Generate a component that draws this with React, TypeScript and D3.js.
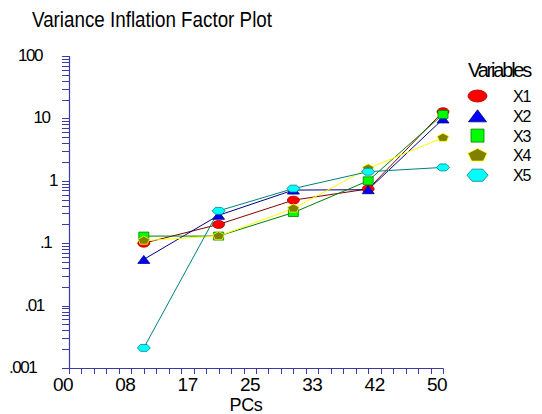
import * as d3 from "d3";

// values
const pcs = [1, 2, 3, 4, 5];
const x1 = [0.1, 0.2, 0.49, 0.74, 12.8];
const x2 = [0.055, 0.28, 0.71, 0.72, 9.8];
const x3 = [0.13, 0.13, 0.31, 1.0, 11.6];
const x4 = [0.11, 0.13, 0.36, 1.58, 4.9];
const x5 = [0.0021, 0.33, 0.75, 1.4, 1.64];
const seriesNames = ["X1", "X2", "X3", "X4", "X5"];

const xTickValues = [0, 5 / 6, 5 / 3, 2.5, 10 / 3, 25 / 6, 5];
const xTickLabels = ["00", "08", "17", "25", "33", "42", "50"];
const yTickValues = [100, 10, 1, 0.1, 0.01, 0.001];
const yTickLabels = ["100", "10", "1", ".1", ".01", ".001"];

const styles = [
  { shape: "circle", fill: "#ff0000", stroke: "#a00000", line: "#800000" },
  { shape: "triangle", fill: "#0000ff", stroke: "#000080", line: "#000080" },
  { shape: "square", fill: "#00ff00", stroke: "#008000", line: "#008000" },
  { shape: "pentagon", fill: "#808000", stroke: "#ffff00", line: "#ffff00" },
  { shape: "hexagon", fill: "#00ffff", stroke: "#008080", line: "#008080" },
];

const font = "'Liberation Sans', Arial, sans-serif";
const axisColor = "#3a3aa8";

function Marker({ shape, cx, cy, w, h, fill, stroke }) {
  if (shape === "circle") {
    return <ellipse cx={cx} cy={cy} rx={w / 2} ry={h / 2} fill={fill} stroke={stroke} strokeWidth={0.8} />;
  }
  let pts;
  if (shape === "triangle") {
    pts = [[0, -h / 2], [w / 2, h / 2], [-w / 2, h / 2]];
  } else if (shape === "square") {
    pts = [[-w / 2, -h / 2], [w / 2, -h / 2], [w / 2, h / 2], [-w / 2, h / 2]];
  } else {
    const n = shape === "pentagon" ? 5 : 6;
    const start = shape === "pentagon" ? -Math.PI / 2 : 0;
    pts = d3.range(n).map((k) => {
      const a = start + (k * 2 * Math.PI) / n;
      return [(Math.cos(a) * w) / 2, (Math.sin(a) * h) / 2];
    });
  }
  const path = d3.line().curve(d3.curveLinearClosed)(pts);
  return (
    <path d={path} transform={`translate(${cx},${cy})`} fill={fill} stroke={stroke} strokeWidth={0.8} />
  );
}

const plotSize = [
  [12, 8],
  [12, 8],
  [10, 8],
  [12, 9],
  [13, 8],
];
const legendSize = [
  [19, 12],
  [18, 12],
  [13, 13],
  [20, 14],
  [21, 14],
];

// rough width the original engine reserved for each y label
const charW = { "0": 15.5, "1": 6, ".": 9 };
const reservedWidth = (s) => d3.sum(s.split(""), (c) => charW[c] || 8);

export default function App() {
  const series = [x1, x2, x3, x4, x5];
  const x = d3.scaleLinear().domain([0, 5]).range([69, 443]);
  const y = d3.scaleLog().domain([0.001, 100]).range([368, 56]);

  const line = d3
    .line()
    .x((d, i) => x(pcs[i]))
    .y((d) => y(d));

  const yMinor = [];
  [0.001, 0.01, 0.1, 1, 10].forEach((dec) => {
    d3.range(1, 10).forEach((k) => yMinor.push(dec * k));
  });
  yMinor.push(100);
  const xMinor = d3.range(0, 31).map((i) => (i * 5) / 30);

  return (
    <svg
      width={542}
      height={414}
      style={{ position: "absolute", left: 0, top: 0, background: "#fff" }}
      fontFamily={font}
    >
      <text x={32} y={27} fontSize={22} textLength={240} lengthAdjust="spacingAndGlyphs" fill="#000">
        Variance Inflation Factor Plot
      </text>

      {/* y axis */}
      <line x1={69.5} x2={69.5} y1={y(100)} y2={y(0.001)} stroke={axisColor} strokeWidth={1.2} />
      {yMinor.map((v, i) => (
        <line key={i} x1={62} x2={69.5} y1={Math.round(y(v)) + 0.5} y2={Math.round(y(v)) + 0.5} stroke={axisColor} strokeWidth={1} />
      ))}
      {yTickValues.map((v, i) => (
        <text key={i} x={55 - reservedWidth(yTickLabels[i])} y={y(v) + 5} fontSize={17} letterSpacing={-1.5} fill="#000">
          {yTickLabels[i]}
        </text>
      ))}

      {/* x axis */}
      <line x1={69} x2={443.5} y1={368.5} y2={368.5} stroke={axisColor} strokeWidth={1.2} />
      {xMinor.map((v, i) => (
        <line key={i} x1={Math.round(x(v)) + 0.5} x2={Math.round(x(v)) + 0.5} y1={368.5} y2={374} stroke={axisColor} strokeWidth={1} />
      ))}
      {xTickValues.map((v, i) => (
        <text key={i} x={x(v) - 6} y={391} fontSize={19} textAnchor="middle" letterSpacing={-0.5} fill="#000">
          {xTickLabels[i]}
        </text>
      ))}
      <text x={246} y={411} fontSize={18} textAnchor="middle" letterSpacing={-0.3} fill="#000">
        PCs
      </text>

      {/* lines */}
      {series.map((vals, s) => (
        <path key={s} d={line(vals)} fill="none" stroke={styles[s].line} strokeWidth={1} />
      ))}
      {/* markers */}
      {series.map((vals, s) => (
        <g key={s}>
          {vals.map((v, i) => (
            <Marker
              key={i}
              shape={styles[s].shape}
              cx={x(pcs[i])}
              cy={y(v)}
              w={plotSize[s][0]}
              h={plotSize[s][1]}
              fill={styles[s].fill}
              stroke={styles[s].stroke}
            />
          ))}
        </g>
      ))}

      {/* legend */}
      <text x={468} y={77} fontSize={20} letterSpacing={-2.2} fill="#000">
        Variables
      </text>
      {seriesNames.map((name, s) => {
        const cy = 96 + s * 19.8;
        return (
          <g key={name}>
            <Marker
              shape={styles[s].shape}
              cx={477.5}
              cy={cy}
              w={legendSize[s][0]}
              h={legendSize[s][1]}
              fill={styles[s].fill}
              stroke={styles[s].stroke}
            />
            <text x={513} y={cy + 6} fontSize={16} letterSpacing={-1.2} fill="#000">
              {name}
            </text>
          </g>
        );
      })}
    </svg>
  );
}
